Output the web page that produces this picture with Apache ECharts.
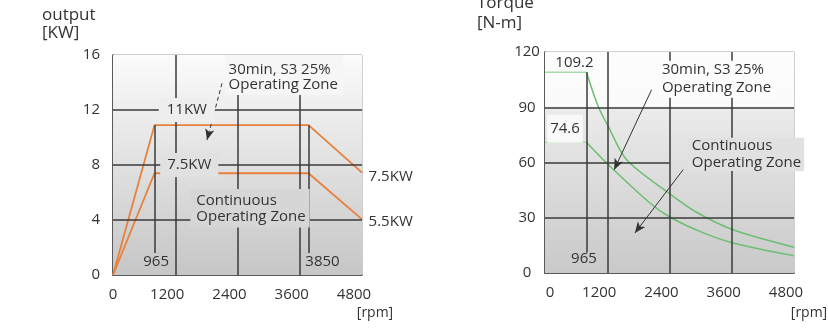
<!DOCTYPE html>
<html><head><meta charset="utf-8">
<script src="https://cdn.jsdelivr.net/npm/echarts@6/dist/echarts.min.js"></script>
<style>html,body{margin:0;padding:0;background:#fff}#c{width:828px;height:331px}</style>
</head><body><div id="c"></div>
<script>
// ---------- data ----------
const rpmTicks = [0, 1200, 2400, 3600, 4800];
const kwTicks = [0, 4, 8, 12, 16];
const nmTicks = [0, 30, 60, 90, 120];

// output chart [KW] vs rpm
const outRpm  = [0, 800, 3770, 4800];
const outS3   = [0, 10.9, 10.9, 7.45];
const outCont = [0, 7.4, 7.4, 4.05];
const outCornerLabels = ['965', '3850'];
const outEndLabels = ['7.5KW', '5.5KW'];
const outLevelLabels = ['11KW', '7.5KW'];

// torque chart [N-m] vs rpm
const tqPlateauRpm  = [0, 800];
const tqS3Plateau   = [109, 109];
const tqContPlateau = [71, 71];
const tqS3Rpm  = [800, 1026, 1219, 1573, 2407, 2921, 3626, 4800];
const tqS3     = [109, 90.4, 79.6, 61.5, 43, 33, 23.5, 14];
const tqContRpm = [800, 1188, 2022, 2407, 2984, 3626, 4800];
const tqCont    = [71, 59.7, 38, 30.4, 22.6, 16.3, 9.4];
const tqLevelLabels = ['109.2', '74.6'];
const tqCornerLabel = '965';

// ---------- styles ----------
const FONT = '"Open Sans", "Noto Sans", sans-serif';
const TXT = '#333';
const GRIDC = '#3a3a3a';
const ORANGE = '#e8803c';
const GREEN = '#6cbf70';
const GREEN_L = '#a8d9a8';

const toXY = (xs, ys) => xs.map((x, i) => [x, ys[i]]);
const inner = a => a.slice(1, a.length - 1);
const last = a => a[a.length - 1];

function hex(c){ return [1,3,5].map(i => parseInt(c.substr(i,2),16)); }
function mix(a, b, t){ const A = hex(a), B = hex(b); return 'rgb(' + A.map((v,i)=>Math.round(v+(B[i]-v)*t)).join(',') + ')'; }
const leftStops = [[0,'#fbfbfb'],[1,'#c6c6c6']];
const rightStops = [[0,'#fdfdfd'],[0.245,'#fafafa'],[0.255,'#ebebeb'],[1,'#c9c9c9']];
function colorAt(stops, f){
  for (let i = 0; i < stops.length - 1; i++){
    if (f <= stops[i+1][0]) return mix(stops[i][1], stops[i+1][1], (f - stops[i][0])/(stops[i+1][0]-stops[i][0]));
  }
  return stops[stops.length-1][1];
}
const grad = stops => new echarts.graphic.LinearGradient(0,0,0,1, stops.map(s=>({offset:s[0], color:s[1]})));

function xAx(gi, leftPad0){
  return {
    gridIndex: gi, type: 'value', min: rpmTicks[0], max: last(rpmTicks), interval: rpmTicks[1]-rpmTicks[0],
    axisLine: {lineStyle: {color: '#333', width: 1.5}},
    axisTick: {show: false},
    splitLine: {show: false},
    axisLabel: {
      margin: 12, color: TXT, fontFamily: FONT, fontSize: 15,
      formatter: v => v === 0 ? '{z|0}' : '{a|' + v + '}',
      rich: {
        z: {fontFamily: FONT, fontSize: 15, color: TXT, padding: [0, 0, 0, leftPad0]},
        a: {fontFamily: FONT, fontSize: 15, color: TXT, padding: [0, 16, 0, 0]}
      }
    }
  };
}
function yAx(gi, ticks, align, margin){
  return {
    gridIndex: gi, type: 'value', min: ticks[0], max: last(ticks), interval: ticks[1]-ticks[0],
    axisLine: {show: true, lineStyle: {color: '#333', width: 1.5}},
    axisTick: {show: false},
    splitLine: {show: false},
    axisLabel: {margin: margin, align: align, color: TXT, fontFamily: FONT, fontSize: 15, padding: [0, 0, 6, 0]}
  };
}

const solid = {type: 'solid', color: GRIDC, width: 1.5};
const seg = (a, b, ls) => [{coord: a, symbol: 'none', lineStyle: ls}, {coord: b, symbol: 'none', lineStyle: ls}];
const arrow = (a, b, ls) => [{coord: a, symbol: 'none', lineStyle: ls}, {coord: b, symbol: 'arrow', symbolSize: [7, 11], lineStyle: ls}];
const vGrid = yT => inner(rpmTicks).map(x => seg([x, yT[0]], [x, last(yT)], solid));

const dashedArrow = {type: [4, 3], color: '#333', width: 1};
const thinArrow = {type: 'solid', color: '#333', width: 1};

function bgSeries(xi, yTicks, stops){
  return {type: 'line', xAxisIndex: xi, yAxisIndex: xi, data: [], z: -1, silent: true,
    markArea: {silent: true, animation: false, label: {show: false}, emphasis: {disabled: true},
      itemStyle: {color: grad(stops), opacity: 1, borderWidth: 0},
      data: [[{coord: [rpmTicks[0], yTicks[0]]}, {coord: [last(rpmTicks), last(yTicks)]}]]}};
}
const mlBase = {silent: true, animation: false, label: {show: false}, emphasis: {disabled: true}};

const option = {
  animation: false,
  backgroundColor: '#fff',
  grid: [
    {left: 113, top: 55, width: 249, height: 220, show: true, borderColor: '#a0a0a0', borderWidth: 1, backgroundColor: 'transparent'},
    {left: 545, top: 52, width: 249, height: 221, show: true, borderColor: '#a0a0a0', borderWidth: 1, backgroundColor: 'transparent'}
  ],
  xAxis: [xAx(0, 0), xAx(1, 10)],
  yAxis: [yAx(0, kwTicks, 'right', 13), yAx(1, nmTicks, 'center', 18)],
  series: [
    bgSeries(0, kwTicks, leftStops),
    bgSeries(1, nmTicks, rightStops),
    // ---- output chart ----
    {type: 'line', xAxisIndex: 0, yAxisIndex: 0, data: [], z: 1, silent: true,
     markLine: Object.assign({}, mlBase, {
       data: [].concat(
         vGrid(kwTicks),
         inner(kwTicks).map(y => seg([rpmTicks[0], y], [last(rpmTicks), y], solid)),
         [seg([outRpm[1], outS3[1]], [outRpm[1], 1.6], solid),
          seg([outRpm[2], outS3[2]], [outRpm[2], 1.6], solid),
          arrow([2101, 13.94], [1812, 9.82], dashedArrow)])})},
    {type: 'line', xAxisIndex: 0, yAxisIndex: 0, data: toXY(outRpm, outS3), symbol: 'none', z: 3,
     lineStyle: {color: ORANGE, width: 1.8}},
    {type: 'line', xAxisIndex: 0, yAxisIndex: 0, data: toXY(outRpm, outCont), symbol: 'none', z: 3,
     lineStyle: {color: ORANGE, width: 1.8}},
    // ---- torque chart ----
    {type: 'line', xAxisIndex: 1, yAxisIndex: 1, data: [], z: 1, silent: true,
     markLine: Object.assign({}, mlBase, {
       data: [].concat(
         vGrid(nmTicks),
         [seg([0, nmTicks[3]], [4800, nmTicks[3]], solid),
          seg([0, nmTicks[2]], [2400, nmTicks[2]], solid),
          seg([0, nmTicks[1]], [4800, nmTicks[1]], solid),
          seg([tqPlateauRpm[1], tqS3Plateau[1]], [tqPlateauRpm[1], 11], solid),
          arrow([2054, 99.5], [1334, 56.1], thinArrow),
          arrow([2663, 56.1], [1733, 21.7], thinArrow)])})},
    {type: 'line', xAxisIndex: 1, yAxisIndex: 1, data: toXY(tqPlateauRpm, tqS3Plateau), symbol: 'none', z: 3,
     lineStyle: {color: GREEN_L, width: 1.5}},
    {type: 'line', xAxisIndex: 1, yAxisIndex: 1, data: toXY(tqPlateauRpm, tqContPlateau), symbol: 'none', z: 3,
     lineStyle: {color: GREEN_L, width: 1.5}},
    {type: 'line', xAxisIndex: 1, yAxisIndex: 1, data: toXY(tqS3Rpm, tqS3), symbol: 'none', smooth: 0.3, z: 3,
     lineStyle: {color: GREEN, width: 1.5}},
    {type: 'line', xAxisIndex: 1, yAxisIndex: 1, data: toXY(tqContRpm, tqCont), symbol: 'none', smooth: 0.3, z: 3,
     lineStyle: {color: GREEN, width: 1.5}}
  ]
};

const chart = echarts.init(document.getElementById('c'), null, {renderer: 'canvas'});
chart.setOption(option);

// ---------- text annotations anchored to data ----------
const els = [];
function txt(x, y, text, o){
  o = o || {};
  els.push({type: 'text', x: x, y: y, z: 100, silent: true,
    style: {text: text, fill: TXT, fontFamily: FONT, fontSize: o.size || 15,
      align: o.align || 'left', textAlign: o.align || 'left',
      verticalAlign: o.va || 'middle', textVerticalAlign: o.va || 'middle',
      lineHeight: o.lh || 18, backgroundColor: o.bg, padding: o.pad || 0}});
}
function at(g, x, y, text, o){
  const p = chart.convertToPixel({gridIndex: g}, [x, y]);
  o = o || {};
  let bg = o.bg;
  if (o.bgFrac !== undefined) bg = colorAt(g === 0 ? leftStops : rightStops, o.bgFrac);
  txt(p[0] + (o.dx || 0), p[1] + (o.dy || 0), text, Object.assign({}, o, {bg: bg}));
}
const fracL = py => (py - 55) / 220;
const fracR = py => (py - 52) / 221;

// left chart
at(0, 1423, kwTicks[3], outLevelLabels[0], {align: 'center', pad: [3, 8], bgFrac: fracL(110)});
at(0, 1471, kwTicks[2], outLevelLabels[1], {align: 'center', pad: [3, 7], bgFrac: fracL(165)});
at(0, 2171, kwTicks[4], '30min, S3 25%\nOperating Zone', {va: 'top', lh: 15, pad: [7, 5, 3, 3], bgFrac: fracL(75)});
at(0, 1490, 6.25, 'Continuous\nOperating Zone', {va: 'top', lh: 16.7, pad: [3, 4, 2, 6], bgFrac: fracL(207)});
at(0, 831, 0.97, outCornerLabels[0], {align: 'center'});
at(0, 3708, 0.97, outCornerLabels[1], {align: 'left'});
at(0, outRpm[3], outS3[3], outEndLabels[0], {dx: 6.6, dy: 4});
at(0, outRpm[3], outCont[3], outEndLabels[1], {dx: 6.6, dy: 2.7});

// right chart
at(1, 568, 114, tqLevelLabels[0], {align: 'center'});
at(1, 385, 78.3, tqLevelLabels[1], {align: 'center', pad: [5, 3], bg: '#f9f9f9'});
at(1, 751, 7.6, tqCornerLabel, {align: 'center'});
at(1, 2176, 115.3, '30min, S3 25%\nOperating Zone', {va: 'top', lh: 18, pad: [0, 4, 1, 4], bg: '#fcfcfc'});
at(1, 2753, 73.4, 'Continuous\nOperating Zone', {va: 'top', lh: 16.6, pad: [0, 3, 0, 4], bgFrac: fracR(155)});

// axis titles
txt(42, 15, 'output', {size: 17});
txt(42, 33, '[KW]', {size: 17});
txt(477, 3, 'Torque', {size: 17});
txt(477, 23, '[N-m]', {size: 17});
txt(375, 313, '[rpm]', {size: 14, align: 'center'});
txt(809, 313, '[rpm]', {size: 14, align: 'center'});

chart.setOption({graphic: {elements: els}});
</script>
</body></html>
